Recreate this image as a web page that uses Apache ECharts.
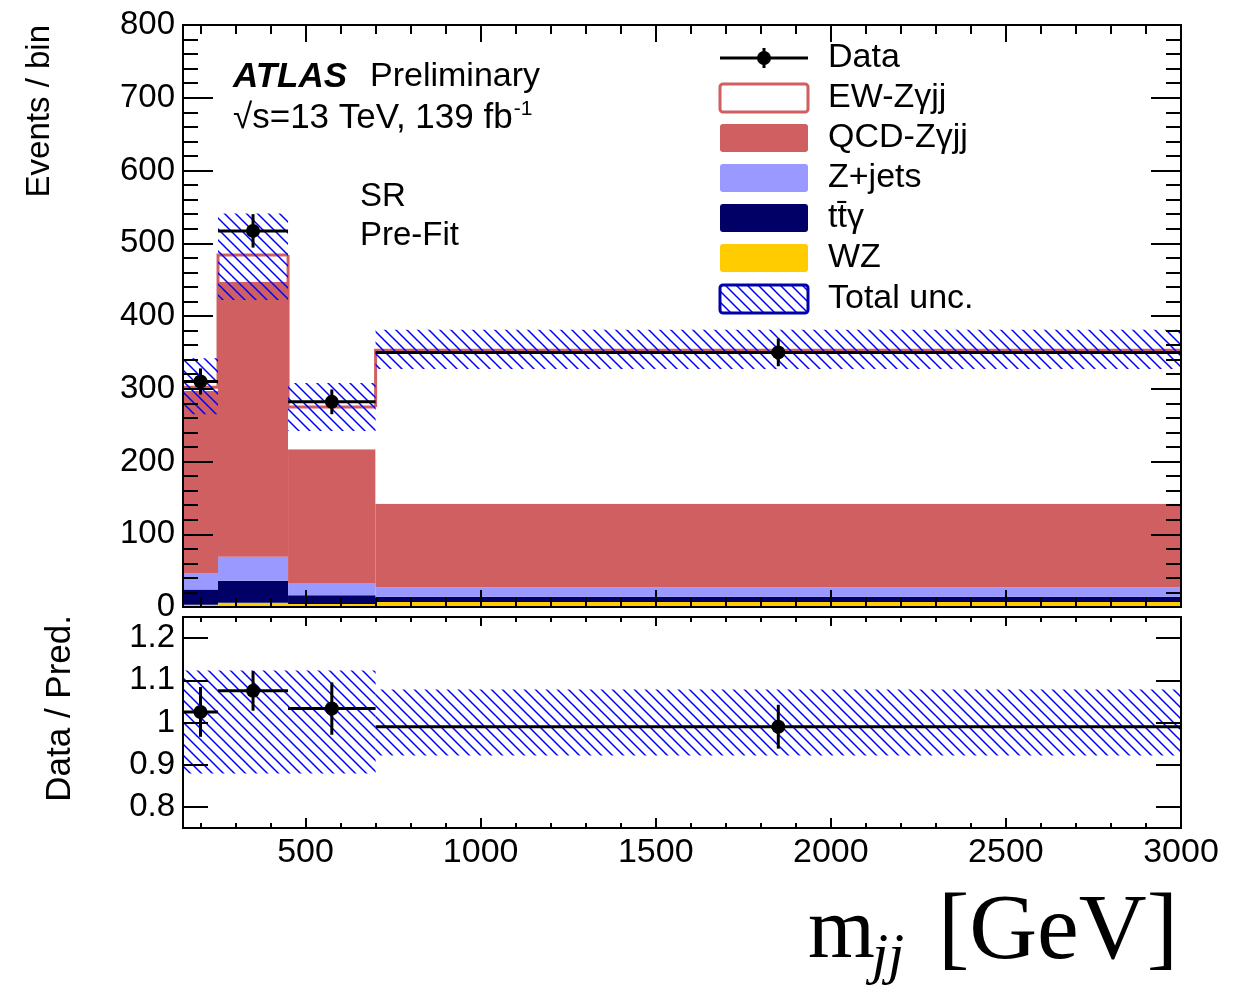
<!DOCTYPE html>
<html>
<head>
<meta charset="utf-8">
<script src="https://cdn.jsdelivr.net/npm/echarts@6/dist/echarts.min.js"></script>
<style>
  html, body { margin: 0; padding: 0; background: #fff; }
  #chart { width: 1236px; height: 987px; }
</style>
</head>
<body>
<div id="chart"></div>
<script>
// bin edges of m_jj [GeV]
const binEdges = [150, 250, 450, 700, 3000];

// stacked predictions (events per bin), bottom to top
const wzVals = [3, 6, 4, 7];
const ttgVals = [21, 30, 12, 7];
const zjetsVals = [22, 33, 17, 13];
const qcdVals = [251, 378, 184, 115];
const ewVals = [5, 37, 58, 211];

// data with stat errors
const dataVals = [310, 517, 282, 350];
const dataErr = [18, 23, 17, 19];

// total uncertainty band
const uncLow = [265, 422, 242, 327];
const uncHigh = [342, 541, 308, 381];

// ratio panel
const ratioVals = [1.025, 1.075, 1.033, 0.99];
const ratioErr = [0.059, 0.047, 0.062, 0.052];
const ratioUncLow = [0.879, 0.879, 0.879, 0.922];
const ratioUncHigh = [1.123, 1.123, 1.123, 1.078];

// tick labels
const xMajorTicks = [500, 1000, 1500, 2000, 2500, 3000];
const ratioTicks = [0.8, 0.9, 1, 1.1, 1.2];

const FONT = '"Liberation Sans", Arial, Helvetica, sans-serif';
const SERIF = '"Liberation Serif", "Times New Roman", serif';
const RED = '#d05f61';

const xMinorTicks = [];
for (let v = 200; v < 3000; v += 100) {
  if (v % 500 !== 0) xMinorTicks.push(v);
}

// hatch pattern for the uncertainty band
function makeHatch(size, color, width) {
  const c = document.createElement('canvas');
  c.width = size;
  c.height = size;
  const ctx = c.getContext('2d');
  ctx.strokeStyle = color;
  ctx.lineWidth = width;
  ctx.beginPath();
  ctx.moveTo(-1, -1); ctx.lineTo(size + 1, size + 1);
  ctx.moveTo(-1, size - 1); ctx.lineTo(1, size + 1);
  ctx.moveTo(size - 1, -1); ctx.lineTo(size + 1, 1);
  ctx.stroke();
  return c;
}
const hatch = { image: makeHatch(11, '#0000ff', 1.5), repeat: 'repeat' };

// text width, used to place the superscript
const measureCtx = document.createElement('canvas').getContext('2d');
function textWidth(text, size) {
  measureCtx.font = size + 'px ' + FONT;
  return measureCtx.measureText(text).width;
}

const chart = echarts.init(document.getElementById('chart'));

function xAx(grid, pos, ticks, len, labels) {
  return {
    type: 'value', gridIndex: grid, position: pos, min: 150, max: 3000, z: 10,
    axisLine: { show: true, onZero: false, lineStyle: { color: '#000', width: 2 } },
    axisTick: { show: true, inside: true, length: len, customValues: ticks, lineStyle: { color: '#000', width: 2 } },
    axisLabel: labels
      ? { show: true, customValues: ticks, formatter: v => String(v), fontSize: 34, fontFamily: FONT, color: '#000', margin: 8 }
      : { show: false },
    splitLine: { show: false }
  };
}

function yTop(pos, labels) {
  return {
    type: 'value', gridIndex: 0, position: pos, min: 0, max: 800, interval: 100, z: 10,
    axisLine: { show: true, onZero: false, lineStyle: { color: '#000', width: 2 } },
    axisTick: { show: true, inside: true, length: 30, lineStyle: { color: '#000', width: 2 } },
    minorTick: { show: true, splitNumber: 5, length: 15, lineStyle: { color: '#000', width: 2 } },
    axisLabel: labels ? { show: true, fontSize: 33, fontFamily: FONT, color: '#000', margin: 8 } : { show: false },
    splitLine: { show: false }
  };
}

function yRatio(pos, labels) {
  return {
    type: 'value', gridIndex: 1, position: pos, min: 0.75, max: 1.25, z: 10,
    axisLine: { show: true, onZero: false, lineStyle: { color: '#000', width: 2 } },
    axisTick: { show: true, inside: true, length: 25, customValues: ratioTicks, lineStyle: { color: '#000', width: 2 } },
    axisLabel: labels
      ? { show: true, customValues: ratioTicks, formatter: v => String(v), fontSize: 33, fontFamily: FONT, color: '#000', margin: 8 }
      : { show: false },
    splitLine: { show: false }
  };
}

function rectItem(params, api, style) {
  const p0 = api.coord([api.value(0), api.value(3)]);
  const p1 = api.coord([api.value(1), api.value(2)]);
  return {
    type: 'rect',
    shape: { x: p0[0], y: p0[1], width: p1[0] - p0[0], height: p1[1] - p0[1] },
    style: style
  };
}

// step outline: vertical at lo from prev total to total, then horizontal across the bin
function outlineItem(params, api) {
  const a = api.coord([api.value(0), api.value(2)]);
  const b = api.coord([api.value(0), api.value(3)]);
  const c = api.coord([api.value(1), api.value(3)]);
  return {
    type: 'polyline',
    shape: { points: [a, b, c] },
    style: { stroke: RED, lineWidth: 3, fill: null }
  };
}

function pointItem(params, api, r) {
  const c = api.value(0), v = api.value(1), e = api.value(2);
  const pc = api.coord([c, v]);
  const pl = api.coord([api.value(3), v]);
  const ph = api.coord([api.value(4), v]);
  const pu = api.coord([c, v + e]);
  const pd = api.coord([c, v - e]);
  const ls = { stroke: '#000', lineWidth: 3 };
  return {
    type: 'group',
    children: [
      { type: 'line', shape: { x1: pl[0], y1: pl[1], x2: ph[0], y2: ph[1] }, style: ls },
      { type: 'line', shape: { x1: pu[0], y1: pu[1], x2: pd[0], y2: pd[1] }, style: ls },
      { type: 'circle', shape: { cx: pc[0], cy: pc[1], r: r }, style: { fill: '#000' } }
    ]
  };
}

// stacked layers
const layers = [
  { name: 'WZ', vals: wzVals, style: { fill: '#ffcc00' } },
  { name: 'ttgamma', vals: ttgVals, style: { fill: '#000066' } },
  { name: 'Z+jets', vals: zjetsVals, style: { fill: '#9999ff' } },
  { name: 'QCD-Zgammajj', vals: qcdVals, style: { fill: RED } },
  { name: 'EW-Zgammajj', vals: ewVals, style: { fill: '#ffffff' } }
];
let base = [0, 0, 0, 0];
const series = layers.map(l => {
  const data = l.vals.map((v, i) => [binEdges[i], binEdges[i + 1], base[i], base[i] + v]);
  base = base.map((b, i) => b + l.vals[i]);
  return {
    name: l.name, type: 'custom', xAxisIndex: 0, yAxisIndex: 0,
    renderItem: (p, api) => rectItem(p, api, l.style),
    data: data
  };
});

// red outline of the stacked total (EW on top)
const totals = base;
series.push({
  name: 'EW outline', type: 'custom', xAxisIndex: 0, yAxisIndex: 0,
  renderItem: outlineItem,
  data: totals.map((t, i) => [binEdges[i], binEdges[i + 1], i === 0 ? t : totals[i - 1], t])
});

series.push({
  name: 'Total unc.', type: 'custom', xAxisIndex: 0, yAxisIndex: 0,
  renderItem: (p, api) => rectItem(p, api, { fill: hatch }),
  data: uncLow.map((v, i) => [binEdges[i], binEdges[i + 1], v, uncHigh[i]])
});
series.push({
  name: 'Data', type: 'custom', xAxisIndex: 0, yAxisIndex: 0, z: 5,
  renderItem: (p, api) => pointItem(p, api, 7),
  data: dataVals.map((v, i) => [(binEdges[i] + binEdges[i + 1]) / 2, v, dataErr[i], binEdges[i], binEdges[i + 1]])
});
series.push({
  name: 'Ratio unc.', type: 'custom', xAxisIndex: 4, yAxisIndex: 2,
  renderItem: (p, api) => rectItem(p, api, { fill: hatch }),
  data: ratioUncLow.map((v, i) => [binEdges[i], binEdges[i + 1], v, ratioUncHigh[i]])
});
series.push({
  name: 'Ratio', type: 'custom', xAxisIndex: 4, yAxisIndex: 2, z: 5,
  renderItem: (p, api) => pointItem(p, api, 7),
  data: ratioVals.map((v, i) => [(binEdges[i] + binEdges[i + 1]) / 2, v, ratioErr[i], binEdges[i], binEdges[i + 1]])
});

// legend drawn as graphics
const legendNames = ['Data', 'EW-Z\u03b3jj', 'QCD-Z\u03b3jj', 'Z+jets', 't\u0074\u0304\u03b3', 'WZ', 'Total unc.'];
const legendY = [58, 98, 138, 178, 218, 258, 299];
const legendBoxStyles = [
  null,
  { fill: '#fff', stroke: RED, lineWidth: 3 },
  { fill: RED },
  { fill: '#9999ff' },
  { fill: '#000066' },
  { fill: '#ffcc00' },
  { fill: hatch, stroke: '#0000aa', lineWidth: 3 }
];
const graphics = [];
legendNames.forEach((name, i) => {
  const y = legendY[i];
  if (i === 0) {
    graphics.push({ type: 'line', shape: { x1: 720, y1: y, x2: 808, y2: y }, style: { stroke: '#000', lineWidth: 3 } });
    graphics.push({ type: 'line', shape: { x1: 764, y1: y - 10, x2: 764, y2: y + 10 }, style: { stroke: '#000', lineWidth: 3 } });
    graphics.push({ type: 'circle', shape: { cx: 764, cy: y, r: 7 }, style: { fill: '#000' } });
  } else {
    graphics.push({ type: 'rect', shape: { x: 720, y: y - 14, width: 88, height: 28, r: 3 }, style: legendBoxStyles[i] });
  }
  graphics.push({
    type: 'text', x: 828, y: y,
    style: { text: name, fontSize: 34, fontFamily: FONT, fill: '#000', verticalAlign: 'middle' }
  });
});

const lumiText = '\u221as=13 TeV, 139 fb';
const lumiEnd = 233 + textWidth(lumiText, 35);

graphics.push(
  { type: 'text', x: 233, y: 77, style: { text: 'ATLAS', fontSize: 35, fontStyle: 'italic', fontWeight: 'bold', fontFamily: FONT, fill: '#000', verticalAlign: 'middle' } },
  { type: 'text', x: 370, y: 77, style: { text: 'Preliminary', fontSize: 34, fontFamily: FONT, fill: '#000', verticalAlign: 'middle' } },
  { type: 'text', x: 233, y: 118, style: { text: lumiText, fontSize: 35, fontFamily: FONT, fill: '#000', verticalAlign: 'middle' } },
  { type: 'text', x: lumiEnd + 1, y: 109, style: { text: '-1', fontSize: 21, fontFamily: FONT, fill: '#000', verticalAlign: 'middle' } },
  { type: 'text', x: 360, y: 197, style: { text: 'SR', fontSize: 33, fontFamily: FONT, fill: '#000', verticalAlign: 'middle' } },
  { type: 'text', x: 360, y: 236, style: { text: 'Pre-Fit', fontSize: 33, fontFamily: FONT, fill: '#000', verticalAlign: 'middle' } },
  { type: 'text', x: 40, y: 25, rotation: Math.PI / 2, style: { text: 'Events / bin', fontSize: 33, fontFamily: FONT, fill: '#000', align: 'right', verticalAlign: 'middle' } },
  { type: 'text', x: 60, y: 615, rotation: Math.PI / 2, style: { text: 'Data / Pred.', fontSize: 35, fontFamily: FONT, fill: '#000', align: 'right', verticalAlign: 'middle' } },
  { type: 'text', x: 808, y: 934, style: { text: 'm', fontSize: 86, fontFamily: SERIF, fill: '#000', verticalAlign: 'middle' } },
  { type: 'text', x: 872, y: 958, style: { text: 'jj', fontSize: 58, fontStyle: 'italic', fontFamily: SERIF, fill: '#000', verticalAlign: 'middle' } },
  { type: 'text', x: 1178, y: 933, style: { text: '[GeV]', fontSize: 94, fontFamily: SERIF, fill: '#000', align: 'right', verticalAlign: 'middle' } }
);

const option = {
  backgroundColor: '#fff',
  animation: false,
  grid: [
    { left: 183, right: 55, top: 25, height: 582, outerBoundsMode: 'none' },
    { left: 183, right: 55, top: 617, height: 211, outerBoundsMode: 'none' }
  ],
  xAxis: [
    xAx(0, 'bottom', xMajorTicks, 17, false),
    xAx(0, 'bottom', xMinorTicks, 9, false),
    xAx(0, 'top', xMajorTicks, 17, false),
    xAx(0, 'top', xMinorTicks, 9, false),
    xAx(1, 'bottom', xMajorTicks, 10, true),
    xAx(1, 'bottom', xMinorTicks, 5, false),
    xAx(1, 'top', xMajorTicks, 9, false),
    xAx(1, 'top', xMinorTicks, 5, false)
  ],
  yAxis: [
    yTop('left', true),
    yTop('right', false),
    yRatio('left', true),
    yRatio('right', false)
  ],
  series: series,
  graphic: graphics
};

chart.setOption(option);
</script>
</body>
</html>
